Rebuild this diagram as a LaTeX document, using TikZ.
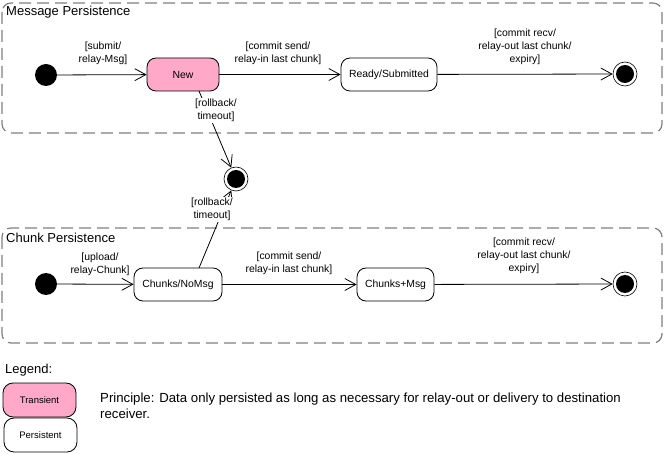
\documentclass[tikz,border=0pt]{standalone}
\usepackage{fontspec}
\setmainfont{Liberation Sans}
\usetikzlibrary{arrows.meta}
\definecolor{pinkst}{HTML}{FFA8C8}
\definecolor{framegray}{HTML}{808080}
\begin{document}
\begin{tikzpicture}[x=1pt,y=-1pt,
  every node/.style={font=\fontsize{10.4}{13}\selectfont, inner sep=0pt},
  frame/.style={draw=framegray, line width=1.2pt, dash pattern=on 12pt off 6pt, rounded corners=9pt},
  title/.style={font=\fontsize{13}{15}\selectfont, anchor=west},
  state/.style={draw, rounded corners=9pt, line width=0.8pt, minimum height=33pt, align=center},
  transient/.style={state, fill=pinkst},
  initst/.style={circle, fill=black, minimum size=22pt},
  finalst/.style={circle, draw, line width=0.6pt, minimum size=24pt,
     path picture={\fill (path picture bounding box.center) circle (9pt);}},
  trans/.style={line width=0.8pt, -{Straight Barb[length=11pt,width=12pt,line width=0.8pt]}},
  lbl/.style={align=center},
  lblbg/.style={align=center, fill=white, inner sep=1pt},
  legbox/.style={draw, rounded corners=10pt, line width=0.8pt, minimum width=73pt, minimum height=34pt, font=\fontsize{9.5}{11}\selectfont}
]
\useasboundingbox (0,0) rectangle (664,454);

% frames
\draw[frame] (2,3) rectangle (662,133);
\node[title] (t1) at (6,12) {Message Persistence};
\draw[frame] (2,228) rectangle (662,343);
\node[title] (t2) at (6,238) {Chunk Persistence};

% message persistence
\node[initst] (i1) at (46,75) {};
\node[transient, minimum width=72pt] (new) at (183,74.5) {New};
\node[state, minimum width=96pt] (ready) at (389,74.5) {Ready/Submitted};
\node[finalst] (f1) at (625,74) {};

% middle final
\node[finalst] (fm) at (236,179) {};

% chunk persistence
\node[initst] (i2) at (46,284) {};
\node[state, minimum width=88pt] (cn) at (178,284.5) {Chunks/NoMsg};
\node[state, minimum width=77pt] (cm) at (395.5,284.5) {Chunks+Msg};
\node[finalst] (f2) at (625,284) {};

% connectors top
\draw[trans] (i1) -- (new);
\draw[trans] (new) -- (ready);
\draw[trans] (ready) -- (f1);
\node[lbl] (l1) at (103,53) {[submit/\\relay-Msg]};
\node[lbl] (l2) at (278,53) {[commit send/\\relay-in last chunk]};
\node[lbl] (l3) at (525,46.5) {[commit recv/\\relay-out last chunk/\\expiry]};

% rollback from New
\coordinate (nb) at (199,91);
\draw[trans] (nb) -- (fm);
\node[lblbg] (l4) at (216,110.5) {[rollback/\\timeout]};

% rollback from Chunks/NoMsg
\coordinate (cb) at (199,268);
\draw[trans] (cb) -- (fm);
\node[lblbg] (l5) at (212,209.5) {[rollback/\\timeout]};

% connectors bottom
\draw[trans] (i2) -- (cn);
\draw[trans] (cn) -- (cm);
\draw[trans] (cm) -- (f2);
\node[lbl] (l6) at (100,264) {[upload/\\relay-Chunk]};
\node[lbl] (l7) at (289,263.5) {[commit send/\\relay-in last chunk]};
\node[lbl] (l8) at (524,255.5) {[commit recv/\\relay-out last chunk/\\expiry]};

% legend
\node[anchor=west, font=\fontsize{13}{15}\selectfont] (leg) at (5,370) {Legend:};
\node[legbox, fill=pinkst] (tr) at (39.5,400) {Transient};
\node[legbox] (pe) at (40.5,435) {Persistent};
\node[anchor=west, align=left, font=\fontsize{13.2}{16}\selectfont] (pr) at (100,406)
  {Principle: Data only persisted as long as necessary for relay-out or delivery to destination\\receiver.};
\end{tikzpicture}
\end{document}
